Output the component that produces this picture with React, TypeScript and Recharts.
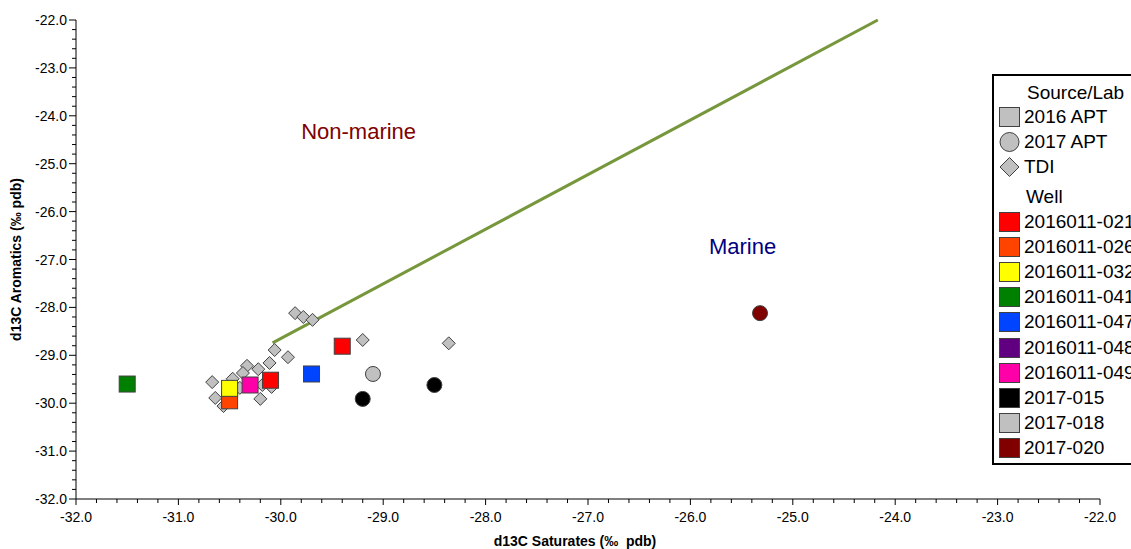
import React from 'react';
import { ScatterChart, Scatter, XAxis, YAxis, ReferenceLine, ReferenceDot, Label } from 'recharts';

const xMajorTicks = [-32, -31, -30, -29, -28, -27, -26, -25, -24, -23, -22];
const yMajorTicks = [-32, -31, -30, -29, -28, -27, -26, -25, -24, -23, -22];

const tdiPoints = [
  { x: -29.86, y: -28.12 },
  { x: -29.78, y: -28.2 },
  { x: -29.69, y: -28.26 },
  { x: -29.2, y: -28.68 },
  { x: -28.36, y: -28.75 },
  { x: -30.06, y: -28.89 },
  { x: -29.93, y: -29.04 },
  { x: -30.11, y: -29.16 },
  { x: -30.33, y: -29.22 },
  { x: -30.22, y: -29.29 },
  { x: -30.37, y: -29.37 },
  { x: -30.47, y: -29.49 },
  { x: -30.67, y: -29.56 },
  { x: -30.18, y: -29.62 },
  { x: -30.09, y: -29.66 },
  { x: -30.4, y: -29.68 },
  { x: -30.64, y: -29.89 },
  { x: -30.2, y: -29.91 },
  { x: -30.56, y: -30.06 },
];

const well021 = [{ x: -30.1, y: -29.52 }, { x: -29.4, y: -28.81 }];
const well026 = [{ x: -30.5, y: -29.95 }];
const well032 = [{ x: -30.5, y: -29.69 }];
const well041 = [{ x: -31.5, y: -29.6 }];
const well047 = [{ x: -29.7, y: -29.39 }];
const well048: { x: number; y: number }[] = [];
const well049 = [{ x: -30.3, y: -29.62 }];
const well2017015 = [{ x: -29.2, y: -29.91 }, { x: -28.5, y: -29.62 }];
const well2017018 = [{ x: -29.1, y: -29.39 }];
const well2017020 = [{ x: -25.32, y: -28.12 }];

const boundaryLine = [{ x: -30.08, y: -28.74 }, { x: -24.17, y: -22.0 }];

const sourceNames = ['2016 APT', '2017 APT', 'TDI'];
const wellNames = ['2016011-021', '2016011-026', '2016011-032', '2016011-041', '2016011-047', '2016011-048', '2016011-049', '2017-015', '2017-018', '2017-020'];
const wellColors = ['#FF0000', '#FF4400', '#FFFF00', '#008000', '#0044FF', '#600080', '#FF00A8', '#000000', '#C0C0C0', '#800000'];
const wellData = [well021, well026, well032, well041, well047, well048, well049, well2017015, well2017018, well2017020];
const wellShape = ['square', 'square', 'square', 'square', 'square', 'square', 'square', 'circle', 'circle', 'circle'];

const FONT = '"Liberation Sans", Arial, sans-serif';
const GRAY = '#C0C0C0';
const EDGE = '#404040';

const minorTicks: number[] = [];
for (let i = 0; i <= 50; i++) minorTicks.push(Math.round((-32 + i * 0.2) * 10) / 10);

const isMajor = (v: number) => Math.abs(v - Math.round(v)) < 1e-6;

const XTick = (props: any) => {
  const { x, y, payload } = props;
  const v = payload.value;
  const major = isMajor(v);
  return (
    <g>
      <line x1={x} y1={y} x2={x} y2={y + (major ? 6 : 4)} stroke="#000" strokeWidth={1} />
      {major && xMajorTicks.includes(Math.round(v)) && (
        <text x={x} y={y + 23} textAnchor="middle" fontSize={14} fontFamily={FONT} fill="#000">
          {v.toFixed(1)}
        </text>
      )}
    </g>
  );
};

const YTick = (props: any) => {
  const { x, y, payload } = props;
  const v = payload.value;
  const major = isMajor(v);
  return (
    <g>
      <line x1={x} y1={y} x2={x - (major ? 7 : 4)} y2={y} stroke="#000" strokeWidth={1} />
      {major && yMajorTicks.includes(Math.round(v)) && (
        <text x={x - 9} y={y + 5} textAnchor="end" fontSize={14} fontFamily={FONT} fill="#000">
          {v.toFixed(1)}
        </text>
      )}
    </g>
  );
};

const makeShape = (kind: string, fill: string) => (props: any) => {
  const { cx, cy } = props;
  if (cx == null || cy == null) return <g />;
  if (kind === 'square') {
    return <rect x={cx - 8} y={cy - 8} width={16} height={16} fill={fill} stroke={EDGE} strokeWidth={1} />;
  }
  if (kind === 'circle') {
    return <circle cx={cx} cy={cy} r={7.5} fill={fill} stroke={EDGE} strokeWidth={1} />;
  }
  const d = 6.5;
  return (
    <polygon
      points={`${cx},${cy - d} ${cx + d},${cy} ${cx},${cy + d} ${cx - d},${cy}`}
      fill={fill}
      stroke={EDGE}
      strokeWidth={1}
    />
  );
};

const textLabel = (text: string, color: string) => (props: any) => {
  const vb = props.viewBox || {};
  const cx = (vb.x || 0) + (vb.width || 0) / 2;
  const cy = (vb.y || 0) + (vb.height || 0) / 2;
  return (
    <text x={cx} y={cy + 8} textAnchor="middle" fontSize={22} fontFamily={FONT} fill={color}>
      {text}
    </text>
  );
};

const LegendMarker = ({ kind, fill }: { kind: string; fill: string }) => (
  <svg width={24} height={24} style={{ position: 'absolute', left: 4, top: -12 }}>
    {kind === 'square' && <rect x={1.5} y={2.5} width={20} height={19} fill={fill} stroke={EDGE} strokeWidth={1} />}
    {kind === 'circle' && <circle cx={11.5} cy={12} r={9.5} fill={fill} stroke={EDGE} strokeWidth={1} />}
    {kind === 'diamond' && <polygon points="11.5,2.5 21,12 11.5,21.5 2,12" fill={fill} stroke={EDGE} strokeWidth={1} />}
  </svg>
);

const LegendBox = () => {
  const boxLeft = 992;
  const boxTop = 74;
  const rowStyle = (top: number): React.CSSProperties => ({ position: 'absolute', left: 0, top: top - boxTop - 2, width: 200, height: 0 });
  const txt = (left: number): React.CSSProperties => ({
    position: 'absolute',
    left: left - boxLeft - 2,
    top: -12,
    fontSize: 19,
    lineHeight: '24px',
    fontFamily: FONT,
    color: '#000',
    whiteSpace: 'nowrap',
  });
  const sourceKinds = ['square', 'circle', 'diamond'];
  return (
    <div
      style={{
        position: 'absolute',
        left: boxLeft,
        top: boxTop,
        width: 200,
        height: 391,
        border: '2px solid #000',
        boxSizing: 'border-box',
        background: '#fff',
      }}
    >
      <div style={rowStyle(93)}>
        <span style={txt(1027)}>Source/Lab</span>
      </div>
      {sourceNames.map((n, i) => (
        <div key={n} style={rowStyle(117 + i * 25)}>
          <LegendMarker kind={sourceKinds[i]} fill={GRAY} />
          <span style={txt(1024)}>{n}</span>
        </div>
      ))}
      <div style={rowStyle(197)}>
        <span style={txt(1026)}>Well</span>
      </div>
      {wellNames.map((n, i) => (
        <div key={n} style={rowStyle(222 + i * 25.1)}>
          <LegendMarker kind="square" fill={wellColors[i]} />
          <span style={txt(1024)}>{n}</span>
        </div>
      ))}
    </div>
  );
};

export default function App() {
  return (
    <div style={{ position: 'absolute', left: 0, top: 0, width: 1131, height: 549, overflow: 'hidden', background: '#fff' }}>
      <ScatterChart width={1131} height={549} margin={{ top: 20, right: 31, left: 0, bottom: 0 }}>
        <XAxis
          type="number"
          dataKey="x"
          domain={[-32, -22]}
          ticks={minorTicks}
          interval={0}
          tickSize={0}
          tickMargin={0}
          tickLine={false}
          tick={<XTick />}
          height={50}
          axisLine={{ stroke: '#000', strokeWidth: 1 }}
          allowDataOverflow
        >
          <Label
            content={(p: any) => {
              const vb = p.viewBox || {};
              return (
                <text x={575} y={(vb.y || 499) + 47} textAnchor="middle" fontSize={14} fontWeight="bold" fontFamily={FONT} fill="#000">
                  {'d13C Saturates (‰\u00A0 pdb)'}
                </text>
              );
            }}
          />
        </XAxis>
        <YAxis
          type="number"
          dataKey="y"
          domain={[-32, -22]}
          ticks={minorTicks}
          interval={0}
          tickSize={0}
          tickMargin={0}
          tickLine={false}
          tick={<YTick />}
          width={76}
          axisLine={{ stroke: '#000', strokeWidth: 1 }}
          allowDataOverflow
        >
          <Label
            content={(p: any) => {
              const vb = p.viewBox || {};
              const cy = (vb.y || 20) + (vb.height || 479) / 2;
              return (
                <text
                  x={21}
                  y={cy}
                  transform={`rotate(-90, 21, ${cy})`}
                  textAnchor="middle"
                  fontSize={14}
                  fontWeight="bold"
                  fontFamily={FONT}
                  fill="#000"
                >
                  d13C Aromatics (‰ pdb)
                </text>
              );
            }}
          />
        </YAxis>
        <ReferenceLine
          segment={boundaryLine}
          stroke="#76973B"
          strokeWidth={3}
          ifOverflow="extendDomain"
        />
        <ReferenceDot x={-29.24} y={-24.32} r={1} fill="none" stroke="none" label={textLabel('Non-marine', '#800000')} />
        <ReferenceDot x={-25.49} y={-26.72} r={1} fill="none" stroke="none" label={textLabel('Marine', '#000080')} />
        <Scatter name="TDI" data={tdiPoints} shape={makeShape('diamond', GRAY)} isAnimationActive={false} />
        {wellNames.map((n, i) => (
          <Scatter
            key={n}
            name={n}
            data={wellData[i]}
            shape={makeShape(wellShape[i], wellColors[i])}
            isAnimationActive={false}
          />
        ))}
      </ScatterChart>
      <LegendBox />
    </div>
  );
}
